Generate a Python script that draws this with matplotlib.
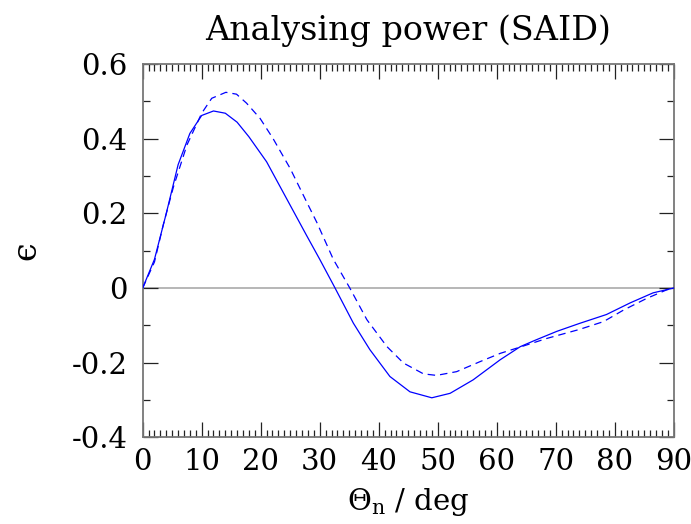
import numpy as np
import matplotlib
matplotlib.use('Agg')
import matplotlib.pyplot as plt
from matplotlib.ticker import MultipleLocator

plt.rcParams['font.family'] = ['DejaVu Serif']
plt.rcParams['mathtext.fontset'] = 'dejavuserif'

# SAID analysing power
theta_said = [0, 2, 4, 6, 8, 10, 12, 14, 16, 18, 21, 24.4, 27.8, 30, 32.6, 35.7,
              38.5, 41.9, 45.3, 49, 52.1, 56, 60.6, 64, 66.5, 70.2, 74, 78.6,
              82.6, 86.5, 90]
eps_said = [0, 0.077, 0.2, 0.33, 0.414, 0.462, 0.474, 0.468, 0.444, 0.405, 0.338,
            0.239, 0.14, 0.077, 0, -0.094, -0.165, -0.237, -0.278, -0.294, -0.282,
            -0.246, -0.192, -0.157, -0.14, -0.116, -0.095, -0.071, -0.04, -0.013, 0]

theta_dash = [0, 2, 3.5, 5.2, 7.5, 10, 11.7, 14.1, 15.9, 17.6, 19.9, 22.1, 25, 27.8,
              29.5, 32.3, 35.1, 38, 41.4, 44.2, 47.6, 49.8, 53.2, 57.2, 60.6, 64,
              68.5, 74, 78.1, 81.5, 85.4, 88.8, 90]
eps_dash = [0, 0.07, 0.17, 0.27, 0.383, 0.468, 0.508, 0.524, 0.519, 0.495, 0.454,
            0.40, 0.32, 0.23, 0.176, 0.077, 0, -0.085, -0.157, -0.201, -0.230,
            -0.234, -0.224, -0.197, -0.175, -0.158, -0.135, -0.111, -0.09, -0.059,
            -0.028, -0.005, 0]

fig = plt.figure(figsize=(6.91, 5.24), dpi=100)
ax = fig.add_axes([0.2065, 0.1653, 0.7685, 0.7127])

ax.axhline(0, color='#aaaaaa', lw=1.2, zorder=1)
ax.plot(theta_said, eps_said, color='#0000ff', lw=0.9, zorder=3)
ax.plot(theta_dash, eps_dash, color='#0000ff', lw=0.9, dashes=(6, 4), zorder=3)

ax.set_xlim(0, 90)
ax.set_ylim(-0.4, 0.6)
ax.xaxis.set_major_locator(MultipleLocator(10))
ax.xaxis.set_minor_locator(MultipleLocator(1))
ax.yaxis.set_minor_locator(MultipleLocator(0.1))
ax.set_yticks([-0.4, -0.2, 0, 0.2, 0.4, 0.6])
ax.set_yticklabels(['-0.4', '-0.2', '0', '0.2', '0.4', '0.6'])

ax.tick_params(which='both', direction='in', top=True, right=True,
               color='#222222', width=0.9, labelsize=21)
ax.tick_params(axis='x', pad=8)
ax.tick_params(axis='y', pad=11)
ax.tick_params(which='major', length=11)
ax.tick_params(which='minor', length=5)
for s in ax.spines.values():
    s.set_color('#777777')
    s.set_linewidth(1.3)

ax.set_title('Analysing power (SAID)', fontsize=24, pad=17)
ax.set_xlabel(r'$\Theta_\mathrm{n}$ / deg', fontsize=21, labelpad=7)
ax.set_ylabel('ϵ', fontsize=24, labelpad=21)

fig.savefig('out.png', dpi=100)
